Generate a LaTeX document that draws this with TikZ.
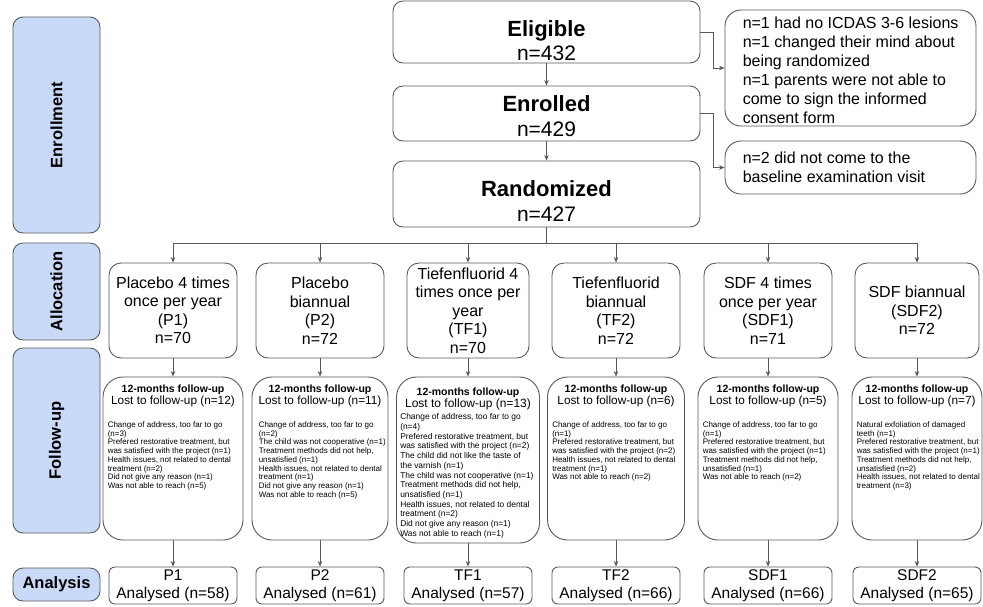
\documentclass[tikz,border=0pt]{standalone}
\usepackage{fontspec}
\setmainfont{Liberation Sans}
\usetikzlibrary{arrows.meta,calc}
\definecolor{lc}{HTML}{595959}
\definecolor{labfill}{HTML}{C9DAF8}
\newcommand\myfs[2]{\fontsize{#1}{#2}\selectfont}
\tikzset{
  box/.style={draw=lc, line width=0.9pt, inner sep=0pt, fill=white},
  mainbox/.style={box, rounded corners=10pt, minimum width=307pt},
  maintitle/.style={anchor=base, inner sep=0pt, font=\myfs{22}{26}\bfseries},
  mainn/.style={anchor=base, inner sep=0pt, font=\myfs{21}{24}},
  exbox/.style={box, rounded corners=16pt, minimum width=251pt},
  extext/.style={anchor=west, inner sep=0pt, align=left, font=\myfs{16}{19}},
  labbox/.style={draw=lc, line width=0.9pt, fill=labfill, rounded corners=10pt, inner sep=0pt, font=\myfs{16.5}{19}\bfseries},
  allocbox/.style={box, rounded corners=12pt, minimum height=95pt, align=center, font=\myfs{16}{18.5}},
  fubox/.style={box, rounded corners=20pt, minimum height=163pt},
  futitle/.style={anchor=base, inner sep=0pt, font=\myfs{10.5}{12}\bfseries},
  fulost/.style={anchor=base, inner sep=0pt, font=\myfs{11.8}{13}},
  fudet/.style={anchor=north west, inner sep=0pt, align=left, font=\myfs{8}{8.7}},
  anbox/.style={box, rounded corners=6pt, minimum width=128pt, minimum height=37pt, align=center, font=\myfs{15.5}{18}},
  arr/.style={draw=lc, line width=0.8pt, -{Stealth[length=5.5pt,width=4.5pt]}},
  ln/.style={draw=lc, line width=0.8pt}
}
\begin{document}
\begin{tikzpicture}[x=1pt,y=-1pt]
\useasboundingbox (0,0) rectangle (983,606);

% stage labels
\node[labbox, rotate=90, minimum width=216pt, minimum height=87pt] (lenr) at (56.5,125) {Enrollment};
\node[labbox, rotate=90, minimum width=97pt, minimum height=87pt] (lall) at (56.5,291.5) {Allocation};
\node[labbox, rotate=90, minimum width=185pt, minimum height=87pt] (lfu) at (56.5,440.5) {Follow-up};
\node[labbox, minimum width=87pt, minimum height=33pt] (lan) at (56.5,584.5) {Analysis};

% main boxes
\node[mainbox, minimum height=62pt] (elig) at (546.5,32) {};
\node[maintitle] (eligt) at (546.5,36) {Eligible};
\node[mainn] (elign) at (546.5,60) {n=432};
\node[mainbox, minimum height=55pt] (enr) at (546.5,113.5) {};
\node[maintitle] (enrt) at (546.5,111) {Enrolled};
\node[mainn] (enrn) at (546.5,136) {n=429};
\node[mainbox, minimum height=66pt] (rand) at (546.5,194) {};
\node[maintitle] (randt) at (546.5,196) {Randomized};
\node[mainn] (randn) at (546.5,221) {n=427};

% exclusion boxes
\node[exbox, minimum height=116pt] (ex1) at (850.5,68) {};
\node[extext] (ex1t) at ($(ex1.west)+(18,2)$) {n=1 had no ICDAS 3-6 lesions\\n=1 changed their mind about\\being randomized\\n=1 parents were not able to\\come to sign the informed\\consent form};
\node[exbox, minimum height=53pt] (ex2) at (850.5,167.5) {};
\node[extext] (ex2t) at ($(ex2.west)+(18,0)$) {n=2 did not come to the\\baseline examination visit};

\draw[arr] (elig) -- (enr);
\draw[arr] (enr) -- (rand);
\draw[arr] (elig.east) -- ++(13,0) |- (ex1.west);
\draw[arr] (enr.east) -- ++(13,0) |- (ex2.west);

% allocation
\node[allocbox, minimum width=128pt] (a1) at (173,310.5) {Placebo 4 times\\once per year\\(P1)\\n=70};
\node[allocbox, minimum width=128pt] (a2) at (320,310.5) {Placebo\\biannual\\(P2)\\n=72};
\node[allocbox, minimum width=122pt] (a3) at (468,310.5) {Tiefenfluorid 4\\times once per\\year\\(TF1)\\n=70};
\node[allocbox, minimum width=128pt] (a4) at (616,310.5) {Tiefenfluorid\\biannual\\(TF2)\\n=72};
\node[allocbox, minimum width=128pt] (a5) at (768,310.5) {SDF 4 times\\once per year\\(SDF1)\\n=71};
\node[allocbox, minimum width=124pt] (a6) at (917,310.5) {SDF biannual\\(SDF2)\\n=72};

\coordinate (bus) at (546.5,243);
\draw[ln] (rand.south) -- (bus);
\draw[ln] (a1.north |- bus) -- (a6.north |- bus);
\foreach \i in {1,...,6} { \draw[arr] (a\i.north |- bus) -- (a\i.north); }

% follow-up
\node[fubox, minimum width=140pt] (f1) at (173,458.5) {};
\node[fubox, minimum width=136pt] (f2) at (320,458.5) {};
\node[fubox, minimum width=143pt, minimum height=166pt] (f3) at (468,460) {};
\node[fubox, minimum width=137pt] (f4) at (616,458.5) {};
\node[fubox, minimum width=140pt] (f5) at (768,458.5) {};
\node[fubox, minimum width=130pt] (f6) at (917,458.5) {};

\node[futitle] (f1t) at ($(f1.north)+(0,16)$) {12-months follow-up};
\node[fulost] (f1l) at ($(f1.north)+(0,28)$) {Lost to follow-up (n=12)};
\node[fudet] (f1d) at ($(f1.north west)+(5,45)$) {Change of address, too far to go\\(n=3)\\Prefered restorative treatment, but\\was satisfied with the project (n=1)\\Health issues, not related to dental\\treatment (n=2)\\Did not give any reason (n=1)\\Was not able to reach (n=5)};

\node[futitle] (f2t) at ($(f2.north)+(0,16)$) {12-months follow-up};
\node[fulost] (f2l) at ($(f2.north)+(0,28)$) {Lost to follow-up (n=11)};
\node[fudet] (f2d) at ($(f2.north west)+(7,45)$) {Change of address, too far to go\\(n=2)\\The child was not cooperative (n=1)\\Treatment methods did not help,\\unsatisfied (n=1)\\Health issues, not related to dental\\treatment (n=1)\\Did not give any reason (n=1)\\Was not able to reach (n=5)};

\node[futitle] (f3t) at ($(f3.north)+(0,19)$) {12-months follow-up};
\node[fulost, font=\myfs{12}{13}] (f3l) at ($(f3.north)+(0,31)$) {Lost to follow-up (n=13)};
\node[fudet, font=\myfs{8.4}{9.7}] (f3d) at ($(f3.north west)+(4,37)$) {Change of address, too far to go\\(n=4)\\Prefered restorative treatment, but\\was satisfied with the project (n=2)\\The child did not like the taste of\\the varnish (n=1)\\The child was not cooperative (n=1)\\Treatment methods did not help,\\unsatisfied (n=1)\\Health issues, not related to dental\\treatment (n=2)\\Did not give any reason (n=1)\\Was not able to reach (n=1)};

\node[futitle] (f4t) at ($(f4.north)+(0,16)$) {12-months follow-up};
\node[fulost] (f4l) at ($(f4.north)+(0,28)$) {Lost to follow-up (n=6)};
\node[fudet] (f4d) at ($(f4.north west)+(5,45)$) {Change of address, too far to go\\(n=1)\\Prefered restorative treatment, but\\was satisfied with the project (n=2)\\Health issues, not related to dental\\treatment (n=1)\\Was not able to reach (n=2)};

\node[futitle] (f5t) at ($(f5.north)+(0,16)$) {12-months follow-up};
\node[fulost] (f5l) at ($(f5.north)+(0,28)$) {Lost to follow-up (n=5)};
\node[fudet] (f5d) at ($(f5.north west)+(5,45)$) {Change of address, too far to go\\(n=1)\\Prefered restorative treatment, but\\was satisfied with the project (n=1)\\Treatment methods did not help,\\unsatisfied (n=1)\\Was not able to reach (n=2)};

\node[futitle] (f6t) at ($(f6.north)+(0,16)$) {12-months follow-up};
\node[fulost] (f6l) at ($(f6.north)+(0,28)$) {Lost to follow-up (n=7)};
\node[fudet] (f6d) at ($(f6.north west)+(5,45)$) {Natural exfoliation of damaged\\teeth (n=1)\\Prefered restorative treatment, but\\was satisfied with the project (n=1)\\Treatment methods did not help,\\unsatisfied (n=2)\\Health issues, not related to dental\\treatment (n=3)};

% analysis
\node[anbox] (n1) at (173,585.5) {P1\\Analysed (n=58)};
\node[anbox] (n2) at (320,585.5) {P2\\Analysed (n=61)};
\node[anbox] (n3) at (468,585.5) {TF1\\Analysed (n=57)};
\node[anbox] (n4) at (616,585.5) {TF2\\Analysed (n=66)};
\node[anbox] (n5) at (768,585.5) {SDF1\\Analysed (n=66)};
\node[anbox] (n6) at (917,585.5) {SDF2\\Analysed (n=65)};

\foreach \i in {1,...,6} {
  \draw[arr] (a\i) -- (f\i);
  \draw[arr] (f\i) -- (n\i);
}
\end{tikzpicture}
\end{document}
